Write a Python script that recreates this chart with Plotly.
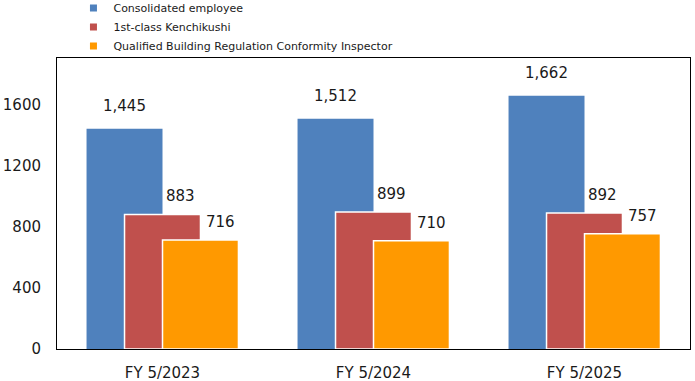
import plotly.graph_objects as go

categories = ["FY 5/2023", "FY 5/2024", "FY 5/2025"]
consolidated = [1445, 1512, 1662]
kenchikushi = [883, 899, 892]
inspector = [716, 710, 757]
series_names = ["Consolidated employee", "1st-class Kenchikushi",
                "Qualified Building Regulation Conformity Inspector"]
colors = ["#4F81BD", "#C0504D", "#FF9900"]
y_ticks = [0, 400, 800, 1200, 1600]

FONT = "DejaVu Sans"
fig = go.Figure()
series = [consolidated, kenchikushi, inspector]
offsets = [-0.36, -0.18, 0.0]
line_w = [0, 1.5, 1.5]
for name, vals, col, off, lw in zip(series_names, series, colors, offsets, line_w):
    fig.add_trace(go.Bar(
        x=categories, y=vals, name=name, marker_color=col,
        marker_line=dict(color="white", width=lw),
        width=0.36, offset=off, showlegend=False, hoverinfo="skip"))

for name, col in zip(series_names, colors):
    fig.add_trace(go.Scatter(
        x=[None], y=[None], mode="markers", name=name,
        marker=dict(symbol="square", size=7, color=col)))

# data labels
label_cfg = [(-0.18, 23, 0), (0.0, 18, 18), (0.18, 18, 20)]
for vals, (dx, dy, xs) in zip(series, label_cfg):
    for i, v in enumerate(vals):
        fig.add_annotation(x=i + dx, y=v, xref="x", yref="y",
                           text=f"{v:,}", showarrow=False,
                           yshift=dy, xshift=xs,
                           font=dict(family=FONT, size=15, color="#1a1a1a"))

fig.update_layout(
    barmode="overlay",
    width=695, height=381,
    margin=dict(l=57, r=5, t=58, b=32, autoexpand=False),
    paper_bgcolor="white", plot_bgcolor="white",
    font=dict(family=FONT, size=15, color="#1a1a1a"),
    legend=dict(x=0.026, y=1.222, xanchor="left", yanchor="top",
                font=dict(family=FONT, size=11, color="#1a1a1a"),
                tracegroupgap=0, itemwidth=30, bgcolor="rgba(0,0,0,0)"),
    xaxis=dict(type="category", categoryorder="array", categoryarray=categories,
               range=[-0.5, 2.5], showline=True, linecolor="black", linewidth=1,
               mirror=True, showgrid=False, ticks="", tickfont=dict(size=15),
               ticklabelstandoff=10, automargin=False),
    yaxis=dict(range=[0, 1910], tickvals=y_ticks, showline=True, linecolor="black",
               linewidth=1, mirror=True, showgrid=False, zeroline=False,
               ticks="", tickfont=dict(size=15), ticklabelstandoff=12,
               automargin=False),
)

fig.write_html("out.html", config={"displayModeBar": False},
               post_script="document.body.style.margin='0';document.body.style.padding='0';")
